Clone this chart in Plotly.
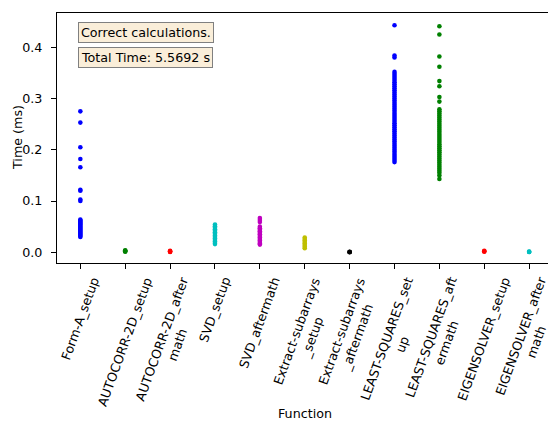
import plotly.graph_objects as go

categories = ["Form-A_setup", "AUTOCORR-2D_setup", "AUTOCORR-2D_aftermath", "SVD_setup",
              "SVD_aftermath", "Extract-subarrays_setup", "Extract-subarrays_aftermath",
              "LEAST-SQUARES_setup", "LEAST-SQUARES_aftermath", "EIGENSOLVER_setup",
              "EIGENSOLVER_aftermath"]
tick_labels = ["Form-A_setup", "AUTOCORR-2D_setup", "AUTOCORR-2D_after<br>math", "SVD_setup",
               "SVD_aftermath", "Extract-subarrays<br>_setup", "Extract-subarrays<br>_aftermath",
               "LEAST-SQUARES_set<br>up", "LEAST-SQUARES_aft<br>ermath", "EIGENSOLVER_setup",
               "EIGENSOLVER_after<br>math"]
colors = ["#0000ff", "#008000", "#ff0000", "#00bfbf", "#bf00bf", "#bfbf00", "#000000",
          "#0000ff", "#008000", "#ff0000", "#00bfbf"]

form_a_setup = [0.275, 0.253, 0.205, 0.182, 0.166, 0.122, 0.120, 0.103, 0.100,
                0.064, 0.062, 0.060, 0.058, 0.056, 0.054, 0.052, 0.050, 0.048, 0.046,
                0.044, 0.042, 0.040, 0.038, 0.036, 0.034, 0.032, 0.030]
autocorr_setup = [0.004, 0.003, 0.002, 0.001]
autocorr_after = [0.003, 0.002, 0.001, 0.0005]
svd_setup = [0.054, 0.051, 0.048, 0.045, 0.042, 0.039, 0.036, 0.033, 0.030, 0.027,
             0.024, 0.021, 0.018, 0.016]
svd_after = [0.067, 0.063, 0.059, 0.050, 0.047, 0.044, 0.041, 0.038, 0.035, 0.032,
             0.029, 0.026, 0.023, 0.020, 0.017, 0.015]
extract_setup = [0.029, 0.026, 0.023, 0.020, 0.017, 0.014, 0.011, 0.008]
extract_after = [0.0008, 0.0005, 0.0003]
ls_setup = [0.443, 0.384, 0.380, 0.352, 0.348, 0.344, 0.340, 0.336, 0.332, 0.328,
            0.324, 0.320, 0.316, 0.312, 0.308, 0.304, 0.300, 0.296, 0.292, 0.288,
            0.284, 0.280, 0.276, 0.272, 0.268, 0.264, 0.260, 0.256, 0.252, 0.248,
            0.244, 0.240, 0.236, 0.232, 0.228, 0.224, 0.220, 0.216, 0.212, 0.208,
            0.204, 0.200, 0.196, 0.192, 0.188, 0.184, 0.180, 0.176]
ls_after = [0.441, 0.425, 0.382, 0.362, 0.334, 0.324, 0.303, 0.294, 0.279, 0.275,
            0.271, 0.267, 0.263, 0.259, 0.255, 0.251, 0.247, 0.243, 0.239, 0.235,
            0.231, 0.227, 0.223, 0.219, 0.215, 0.211, 0.207, 0.203, 0.199, 0.195,
            0.191, 0.187, 0.183, 0.179, 0.175, 0.171, 0.167, 0.163, 0.159, 0.155,
            0.150, 0.143]
eig_setup = [0.003, 0.002, 0.001]
eig_after = [0.0012, 0.0008, 0.0005]

series = [form_a_setup, autocorr_setup, autocorr_after, svd_setup, svd_after,
          extract_setup, extract_after, ls_setup, ls_after, eig_setup, eig_after]

FONT = "DejaVu Sans"
FS = 12.7

fig = go.Figure()
for cat, vals, col in zip(categories, series, colors):
    fig.add_trace(go.Scatter(
        x=[cat] * len(vals), y=vals, mode="markers",
        marker=dict(color=col, size=4.6, line=dict(width=0)),
        showlegend=False, cliponaxis=False))

W, H = 548, 422
L, T, B = 57, 13, 159
pw, ph = W - L, H - T - B

annotations = []
for cat, lab in zip(categories, tick_labels):
    annotations.append(dict(
        x=cat, xref="x", y=-11 / ph, yref="paper", text=lab, showarrow=False,
        textangle=-70, xanchor="center", yanchor="top", align="center",
        borderpad=0, font=dict(family=FONT, size=FS, color="black")))
annotations.append(dict(x=5, xref="x", y=(T + ph - 413) / ph, yref="paper",
                        text="Function", showarrow=False, xanchor="center", yanchor="middle",
                        font=dict(family=FONT, size=FS, color="black")))
annotations.append(dict(x=(17 - L) / pw, xref="paper", y=0.5, yref="paper",
                        text="Time (ms)", showarrow=False, textangle=-90,
                        xanchor="center", yanchor="middle",
                        font=dict(family=FONT, size=FS, color="black")))
for txt, ytop in [("Correct calculations.", 21.7), ("Total Time: 5.5692 s", 46.7)]:
    annotations.append(dict(
        x=(78 - L) / pw, xref="paper", y=(T + ph - ytop) / ph, yref="paper",
        text=txt, showarrow=False, xanchor="left", yanchor="top", align="left",
        bgcolor="rgba(250,238,217,1)", bordercolor="rgba(128,128,128,1)",
        borderwidth=1, borderpad=2,
        font=dict(family=FONT, size=FS, color="black")))

fig.update_layout(
    width=W, height=H, margin=dict(l=L, r=0, t=T, b=B, pad=0),
    plot_bgcolor="white", paper_bgcolor="white",
    font=dict(family=FONT, size=FS, color="black"),
    annotations=annotations,
    xaxis=dict(type="category", categoryorder="array", categoryarray=categories,
               range=[-0.52, 10.42], showgrid=False, zeroline=False,
               showline=True, linecolor="black", linewidth=1, mirror=True,
               ticks="outside", ticklen=5, tickcolor="black", tickwidth=1,
               tickvals=categories, showticklabels=False),
    yaxis=dict(range=[-0.0209, 0.4669], showgrid=False, zeroline=False,
               showline=True, linecolor="black", linewidth=1, mirror=False,
               ticks="outside", ticklen=5, tickcolor="black", tickwidth=1,
               ticklabelstandoff=6,
               tickvals=[0.0, 0.1, 0.2, 0.3, 0.4],
               ticktext=["0.0", "0.1", "0.2", "0.3", "0.4"],
               tickfont=dict(family=FONT, size=FS, color="black")),
)

fig.write_html("out.html")
